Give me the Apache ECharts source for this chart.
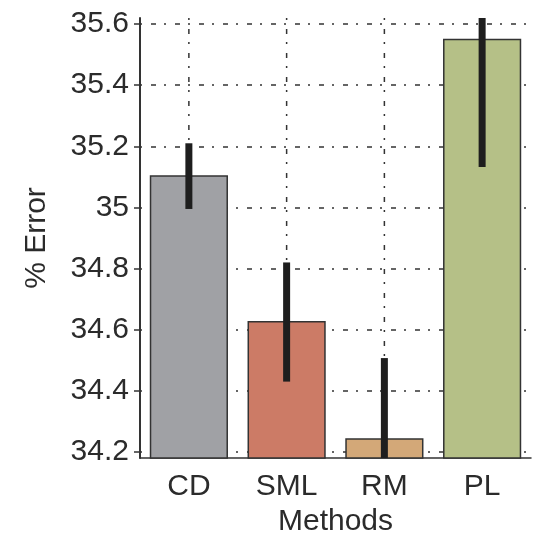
<!DOCTYPE html>
<html>
<head>
  <meta charset="utf-8" />
  <script src="https://cdn.jsdelivr.net/npm/echarts@6/dist/echarts.min.js"></script>
  <style>
    html, body { margin: 0; padding: 0; background: #fff; }
    #chart { width: 533px; height: 537px; }
  </style>
</head>
<body>
  <div id="chart"></div>
  <script>
    // data
    var methods = ['CD', 'SML', 'RM', 'PL'];
    var errorMean = [35.105, 34.628, 34.245, 35.552];
    var errorLow = [34.995, 34.43, 34.18, 35.132];
    var errorHigh = [35.21, 34.82, 34.507, 35.62];
    var barColors = ['#a0a1a5', '#cc7b66', '#d3a878', '#b5c087'];
    var yTicks = [34.2, 34.4, 34.6, 34.8, 35, 35.2, 35.4, 35.6];

    var txt = '#2b2b2b';
    var font = 'Liberation Sans';
    var dotted = [2, 9, 5, 8];

    var barData = errorMean.map(function (v, i) {
      return { value: v, itemStyle: { color: barColors[i] } };
    });
    var errData = methods.map(function (m, i) { return [i, errorLow[i], errorHigh[i]]; });
    var vData = methods.map(function (m, i) { return [i]; });

    var chart = echarts.init(document.getElementById('chart'));
    chart.setOption({
      animation: false,
      grid: { left: 140, right: 2, top: 18, bottom: 79, outerBoundsMode: 'none' },
      xAxis: {
        type: 'category',
        data: methods,
        name: 'Methods',
        nameLocation: 'middle',
        nameGap: 46,
        nameTextStyle: { fontSize: 30, color: txt, fontFamily: font },
        axisLine: { lineStyle: { color: '#333', width: 1.5 } },
        axisTick: { alignWithLabel: true, length: 5, lineStyle: { color: '#333', width: 1.5 } },
        axisLabel: { fontSize: 30, color: txt, fontFamily: font, margin: 14 },
        splitLine: { show: false }
      },
      yAxis: {
        type: 'value',
        min: 34.18,
        max: 35.62,
        name: '% Error',
        nameLocation: 'middle',
        nameGap: 88,
        nameTextStyle: { fontSize: 30, color: txt, fontFamily: font },
        axisLine: { show: true, lineStyle: { color: '#333', width: 2 } },
        axisTick: { show: true, customValues: yTicks, length: 6, lineStyle: { color: '#333', width: 1.5 } },
        axisLabel: { customValues: yTicks, fontSize: 30, color: txt, fontFamily: font, margin: 11 },
        splitLine: { show: true, lineStyle: { color: '#333', width: 1.5, type: dotted } }
      },
      series: [
        {
          // vertical dotted grid lines at category centres
          type: 'custom',
          z: 1,
          data: vData,
          encode: { x: 0 },
          silent: true,
          renderItem: function (params, api) {
            var x = api.coord([api.value(0), 34.18])[0];
            var cs = params.coordSys;
            return {
              type: 'line',
              shape: { x1: x, y1: cs.y, x2: x, y2: cs.y + cs.height },
              style: { stroke: '#333', lineWidth: 1.5, lineDash: dotted }
            };
          }
        },
        {
          type: 'bar',
          z: 2,
          data: barData,
          barCategoryGap: '20%',
          itemStyle: { borderColor: '#333', borderWidth: 1.5 }
        },
        {
          type: 'custom',
          z: 3,
          data: errData,
          encode: { x: 0, y: [1, 2] },
          renderItem: function (params, api) {
            var a = api.coord([api.value(0), api.value(1)]);
            var b = api.coord([api.value(0), api.value(2)]);
            return {
              type: 'line',
              shape: { x1: a[0], y1: a[1], x2: b[0], y2: b[1] },
              style: { stroke: '#1e1e1e', lineWidth: 7 }
            };
          }
        }
      ]
    });
  </script>
</body>
</html>
